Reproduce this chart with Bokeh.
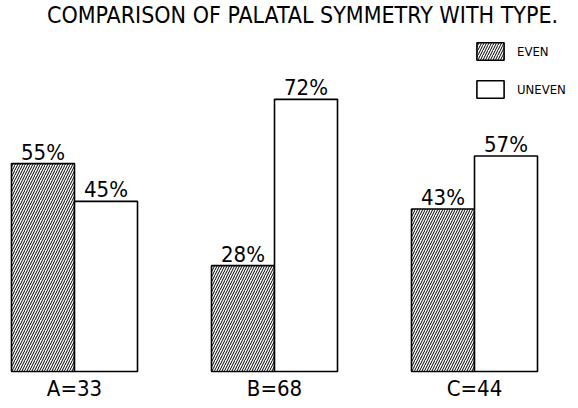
from bokeh.plotting import figure
from bokeh.models import Range1d, ColumnDataSource, Legend, LegendItem, Label
from bokeh.core.properties import value
from bokeh.embed import file_html
from bokeh.resources import INLINE

# ---- data ----
groups = ["A=33", "B=68", "C=44"]
even = [55, 28, 43]
uneven = [45, 72, 57]
title_text = "COMPARISON OF PALATAL SYMMETRY WITH TYPE."
series_names = ["EVEN", "UNEVEN"]

FONT = "'DejaVu Sans Condensed', Roboto, sans-serif"

# ---- layout ----
W, H = 570, 400
bar_w = 0.315
gx = list(range(len(groups)))

p = figure(width=W, height=H, output_backend="svg", toolbar_location=None,
           x_axis_type=None, y_axis_type=None, min_border=0,
           x_range=Range1d(-0.37, 2.48), y_range=Range1d(-7.67, 98.15))
p.outline_line_color = None
p.grid.visible = False
p.background_fill_color = "white"
p.border_fill_color = "white"

src_even = ColumnDataSource(dict(x=[g - bar_w / 2 for g in gx], top=even,
                                 lab=[f"{v}%" for v in even]))
src_uneven = ColumnDataSource(dict(x=[g + bar_w / 2 for g in gx], top=uneven,
                                   lab=[f"{v}%" for v in uneven]))

r_even = p.vbar(x="x", top="top", bottom=0, width=bar_w, source=src_even,
                fill_color="white", line_color="black", line_width=1.6,
                hatch_pattern="right_diagonal_line", hatch_color="black",
                hatch_scale=5, hatch_weight=1)
r_uneven = p.vbar(x="x", top="top", bottom=0, width=bar_w, source=src_uneven,
                  fill_color="white", line_color="black", line_width=1.6)

for src in (src_even, src_uneven):
    p.text(x="x", y="top", text="lab", source=src, text_align="center",
           text_baseline="bottom", y_offset=1, text_font=value(FONT),
           text_font_size="22px", text_color="black")

p.text(x=gx, y=[-4.6] * len(gx), text=groups, text_align="center",
       text_baseline="middle", text_font=value(FONT), text_font_size="22px",
       text_color="black")

p.add_layout(Label(x=1.14, y=94.3, text=title_text, text_align="center",
                   text_baseline="middle", text_font=FONT,
                   text_font_size="23px", text_color="black"))

legend = Legend(items=[LegendItem(label=series_names[0], renderers=[r_even]),
                       LegendItem(label=series_names[1], renderers=[r_uneven])],
                location=(473, 300), orientation="vertical",
                glyph_width=34, glyph_height=22, label_height=22,
                spacing=16, label_standoff=10, padding=0, margin=0,
                border_line_color=None, background_fill_alpha=0,
                label_text_font=FONT, label_text_font_size="13px",
                label_text_color="black", label_text_baseline="middle")
p.add_layout(legend, "center")

open("out.html", "w").write(file_html(p, INLINE))
